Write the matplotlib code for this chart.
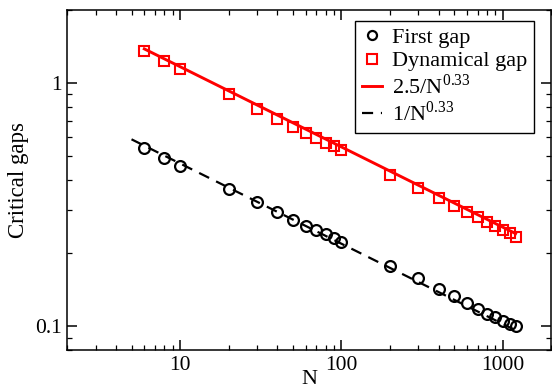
import matplotlib
matplotlib.use('Agg')
import matplotlib.pyplot as plt
import numpy as np

plt.rcParams['font.family'] = ['Liberation Serif', 'DejaVu Serif']
plt.rcParams['mathtext.fontset'] = 'custom'
plt.rcParams['mathtext.rm'] = 'Liberation Serif'

# Data
n_vals = [6, 8, 10, 20, 30, 40, 50, 60, 70, 80, 90, 100,
          200, 300, 400, 500, 600, 700, 800, 900, 1000, 1100, 1200]
first_gap = [0.541, 0.493, 0.457, 0.367, 0.324, 0.295, 0.275, 0.260, 0.248, 0.240, 0.232, 0.222,
             0.177, 0.158, 0.143, 0.134, 0.125, 0.118, 0.113, 0.109, 0.105, 0.102, 0.100]
dyn_gap = [1.36, 1.23, 1.14, 0.90, 0.785, 0.712, 0.660, 0.623, 0.594, 0.570, 0.553, 0.529,
           0.421, 0.370, 0.337, 0.313, 0.295, 0.281, 0.270, 0.260, 0.250, 0.242, 0.234]

# fit lines
fit_red_n = np.array([6, 1200])
fit_blk_n = np.array([5, 1200])
fit_red = 2.5 / fit_red_n ** 0.33
fit_blk = 1.0 / fit_blk_n ** 0.33

fig = plt.figure(figsize=(5.52, 3.92), dpi=100)
ax = fig.add_axes([67.3 / 552, 1 - 350 / 392, (551.4 - 67.3) / 552, 340 / 392])

ax.plot(fit_red_n, fit_red, color='red', lw=2.1, zorder=2)
ax.plot(fit_blk_n, fit_blk, color='black', lw=1.6, dashes=(5, 3.5), zorder=2)

ax.plot(n_vals, first_gap, 'o', ms=7.8, mfc='none', mec='black', mew=1.6, zorder=3)
ax.plot(n_vals, dyn_gap, 's', ms=7.4, mfc='none', mec='red', mew=1.5, zorder=3)

ax.set_xscale('log')
ax.set_yscale('log')
ax.set_xlim(2, 2000)
ax.set_ylim(0.08, 2)
ax.set_xticks([10, 100, 1000])
ax.set_xticklabels(['10', '100', '1000'])
ax.set_yticks([0.1, 1])
ax.set_yticklabels(['0.1', '1'])

ax.tick_params(which='both', direction='in', top=True, right=True, labelsize=15.5, colors='black')
ax.tick_params(which='major', length=7.2, width=1.1, pad=4)
ax.tick_params(which='minor', length=3.6, width=0.9)
for s in ax.spines.values():
    s.set_linewidth(1.1)

ax.set_xlabel('N', fontsize=16, labelpad=-3)
ax.set_ylabel('Critical gaps', fontsize=16.5, labelpad=4)

h1 = plt.Line2D([], [], ls='none', marker='o', ms=6.5, mfc='none', mec='black', mew=1.6)
h2 = plt.Line2D([], [], ls='none', marker='s', ms=6.5, mfc='none', mec='red', mew=1.5)
h3 = plt.Line2D([], [], color='red', lw=2.1)
h4 = plt.Line2D([], [], color='black', lw=1.6, dashes=(5, 3.5))
leg = ax.legend([h1, h2, h3, h4],
                ['First gap', 'Dynamical gap', r'2.5/N$^{0.33}$', r'1/N$^{0.33}$'],
                loc='upper right', bbox_to_anchor=(0.964, 0.968), fontsize=16,
                frameon=True, fancybox=False, edgecolor='black', framealpha=1,
                handlelength=0.9, handletextpad=0.45, labelspacing=0.12,
                borderpad=0.3, borderaxespad=0)
leg.get_frame().set_linewidth(1.0)

fig.savefig('out.png', dpi=100)
